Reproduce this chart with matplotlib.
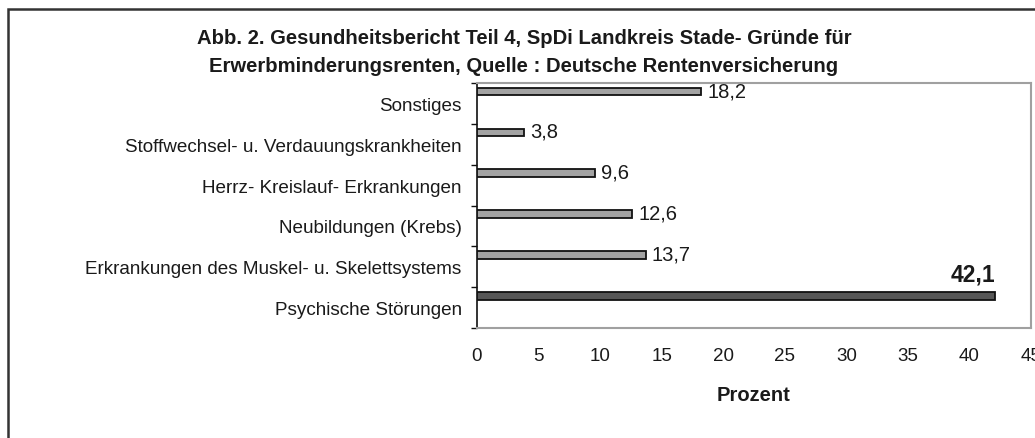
import matplotlib
matplotlib.use("Agg")
import matplotlib.pyplot as plt
from matplotlib.patches import Rectangle
import numpy as np

plt.rcParams['font.family'] = ['Liberation Sans', 'DejaVu Sans']

categories = [
    "Psychische Störungen",
    "Erkrankungen des Muskel- u. Skelettsystems",
    "Neubildungen (Krebs)",
    "Herrz- Kreislauf- Erkrankungen",
    "Stoffwechsel- u. Verdauungskrankheiten",
    "Sonstiges",
]
values = [42.1, 13.7, 12.6, 9.6, 3.8, 18.2]
value_labels = ["42,1", "13,7", "12,6", "9,6", "3,8", "18,2"]
x_ticks = [0, 5, 10, 15, 20, 25, 30, 35, 40, 45]
title_lines = [
    "Abb. 2. Gesundheitsbericht Teil 4, SpDi Landkreis Stade- Gründe für",
    "Erwerbminderungsrenten, Quelle : Deutsche Rentenversicherung",
]
x_label = "Prozent"

W, H = 1035, 439
fig = plt.figure(figsize=(W / 100, H / 100), dpi=100)
fig.patch.set_facecolor("white")

ax = fig.add_axes([477 / W, 1 - 329 / H, (1031 - 477) / W, (329 - 84) / H])

n = len(categories)
pos = np.arange(n)
offset = 0.29
bar_h = 0.19
colors = ["#575757"] + ["#a3a3a3"] * (n - 1)
ax.barh(pos + offset, values, height=bar_h, color=colors,
        edgecolor="#111111", linewidth=1.3, zorder=3)

for i, (v, lab) in enumerate(zip(values, value_labels)):
    if i == 0:
        ax.annotate(lab, xy=(v, pos[i] + offset + bar_h / 2), xytext=(0, 6),
                    textcoords="offset pixels", ha="right", va="bottom",
                    fontsize=16.5, fontweight="bold", color="#1a1a1a")
    else:
        ax.annotate(lab, xy=(v, pos[i] + offset), xytext=(6, 1),
                    textcoords="offset pixels", ha="left", va="center",
                    fontsize=14.5, color="#1a1a1a")

ax.set_xlim(0, 45)
ax.set_ylim(-0.5, n - 0.5)
ax.set_xticks(x_ticks)
ax.set_xticklabels([str(t) for t in x_ticks])
ax.tick_params(axis="x", length=0, pad=14, labelsize=13.5, colors="#1a1a1a")

ax.set_yticks(pos)
ax.set_yticklabels(categories)
ax.tick_params(axis="y", which="major", length=0, pad=11, labelsize=13.6,
               colors="#1a1a1a")
ax.set_yticks(np.arange(-0.5, n, 1.0), minor=True)
ax.tick_params(axis="y", which="minor", length=4, width=1.0, direction="out",
               color="#111111")

ax.set_xlabel(x_label, fontsize=14.5, fontweight="bold", labelpad=15,
              color="#1a1a1a")

for side in ["top", "right", "bottom"]:
    ax.spines[side].set_color("#a0a0a0")
    ax.spines[side].set_linewidth(1.5)
ax.spines["left"].set_color("#111111")
ax.spines["left"].set_linewidth(1.2)

fig.text(524 / W, 1 - 38 / H, title_lines[0], ha="center", va="center",
         fontsize=14.6, fontweight="bold", color="#1a1a1a")
fig.text(524 / W, 1 - 66 / H, title_lines[1], ha="center", va="center",
         fontsize=14.6, fontweight="bold", color="#1a1a1a")

frame = Rectangle((7.5 / W, -0.1), 1.2, (1 - 9.5 / H) + 0.1,
                  transform=fig.transFigure, fill=False,
                  edgecolor="#333333", linewidth=1.8)
fig.add_artist(frame)

fig.savefig("out.png", dpi=100, facecolor="white")
